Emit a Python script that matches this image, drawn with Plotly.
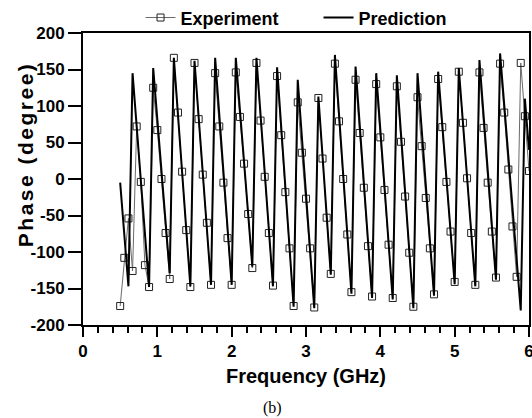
import plotly.graph_objects as go

freq_ghz = [
    0.5, 0.5556, 0.6111, 0.6667, 0.7222, 0.7778, 0.8333, 0.8889, 0.9444,
    1.0, 1.0556, 1.1111, 1.1667, 1.2222, 1.2778, 1.3333, 1.3889, 1.4444,
    1.5, 1.5556, 1.6111, 1.6667, 1.7222, 1.7778, 1.8333, 1.8889, 1.9444,
    2.0, 2.0556, 2.1111, 2.1667, 2.2222, 2.2778, 2.3333, 2.3889, 2.4444,
    2.5, 2.5556, 2.6111, 2.6667, 2.7222, 2.7778, 2.8333, 2.8889, 2.9444,
    3.0, 3.0556, 3.1111, 3.1667, 3.2222, 3.2778, 3.3333, 3.3889, 3.4444,
    3.5, 3.5556, 3.6111, 3.6667, 3.7222, 3.7778, 3.8333, 3.8889, 3.9444,
    4.0, 4.0556, 4.1111, 4.1667, 4.2222, 4.2778, 4.3333, 4.3889, 4.4444,
    4.5, 4.5556, 4.6111, 4.6667, 4.7222, 4.7778, 4.8333, 4.8889, 4.9444,
    5.0, 5.0556, 5.1111, 5.1667, 5.2222, 5.2778, 5.3333, 5.3889, 5.4444,
    5.5, 5.5556, 5.6111, 5.6667, 5.7222, 5.7778, 5.8333, 5.8889, 5.9444,
    6.0,
]

experiment_deg = [
    -174, -108, -54, -126, 72, -4, -118, -148, 125,
    67, 0, -74, -137, 166, 91, 10, -70, -148,
    159, 82, 6, -60, -145, 145, 72, -5, -81,
    -145, 146, 85, 21, -48, -122, 159, 80, 3,
    -74, -146, 141, 60, -18, -95, -174, 105, 36,
    -27, -95, -176, 111, 28, -53, -130, 158, 79,
    0, -76, -155, 136, 63, -12, -92, -161, 130,
    57, -15, -90, -163, 127, 51, -24, -101, -175,
    112, 45, -26, -95, -158, 137, 71, -4, -72,
    -141, 147, 77, 1, -74, -145, 146, 70, -5,
    -72, -135, 158, 91, 13, -65, -134, 159, 86,
    11,
]

prediction_deg = [
    -5, -76, -147, 145, 72, -2, -75, -148, 152,
    82, 12, -59, -129, 166, 88, 10, -69, -147,
    162, 85, 9, -68, -145, 166, 88, 11, -67,
    -145, 166, 95, 23, -49, -120, 166, 88, 10,
    -69, -147, 153, 71, -11, -93, -175, 136, 58,
    -21, -99, -177, 113, 32, -50, -131, 170, 88,
    7, -75, -157, 154, 75, -5, -84, -163, 145,
    68, -10, -88, -165, 142, 62, -18, -97, -177,
    145, 69, -8, -84, -160, 147, 74, 2, -71,
    -144, 152, 77, 3, -72, -147, 163, 88, 13,
    -63, -138, 172, 102, 31, -39, -110, -180, 110,
    40,
]

x_tick_vals = [0, 1, 2, 3, 4, 5, 6]
x_tick_text = ["0", "1", "2", "3", "4", "5", "6"]
y_tick_vals = [-200, -150, -100, -50, 0, 50, 100, 150, 200]
y_tick_text = ["-200", "-150", "-100", "-50", "0", "50", "100", "150", "200"]

FONT = "Liberation Sans, Arial, sans-serif"

fig = go.Figure()
fig.add_trace(go.Scatter(
    x=freq_ghz, y=experiment_deg, name="Experiment", mode="lines+markers",
    line=dict(color="#6a6a6a", width=1),
    marker=dict(symbol="square-open", size=7, color="#222222",
                line=dict(width=1, color="#222222")),
))
fig.add_trace(go.Scatter(
    x=freq_ghz, y=prediction_deg, name="Prediction", mode="lines",
    line=dict(color="#000000", width=2),
))

axis_common = dict(
    showline=True, linecolor="black", linewidth=2, mirror=True,
    ticks="outside", tickcolor="black", tickwidth=2,
    showgrid=False, zeroline=False, automargin=False,
    ticklabeloverflow="allow",
    tickfont=dict(family=FONT, size=17, color="black", weight="bold"),
)

fig.update_xaxes(range=[0, 6], tickvals=x_tick_vals, ticktext=x_tick_text,
                 ticklen=10,
                 minor=dict(dtick=0.2, ticks="outside", ticklen=6,
                            tickwidth=2, tickcolor="black"),
                 **axis_common)
fig.update_yaxes(range=[-200, 200], tickvals=y_tick_vals, ticktext=y_tick_text,
                 ticklen=13, **axis_common)

fig.update_layout(
    width=532, height=418,
    margin=dict(l=83, r=3, t=33, b=93, autoexpand=False),
    paper_bgcolor="white", plot_bgcolor="white",
    hovermode=False,
    showlegend=True,
    legend=dict(orientation="h", x=0.129, xanchor="left", y=1.052,
                yanchor="middle", bgcolor="rgba(0,0,0,0)",
                entrywidth=133, entrywidthmode="pixels",
                font=dict(family=FONT, size=18, color="black", weight="bold")),
    annotations=[
        dict(text="Frequency (GHz)", xref="paper", yref="paper",
             x=0.5, y=-0.175, xanchor="center", yanchor="middle",
             showarrow=False,
             font=dict(family=FONT, size=20, color="black", weight="bold")),
        dict(text="<span style='letter-spacing:2.5px'>Phase (degree)</span>",
             xref="paper", yref="paper", textangle=-90,
             x=-0.13, y=0.585, xanchor="center", yanchor="middle",
             showarrow=False,
             font=dict(family=FONT, size=21, color="black", weight="bold")),
        dict(text="(b)", xref="paper", yref="paper",
             x=0.4255, y=-0.284, xanchor="center", yanchor="middle",
             showarrow=False,
             font=dict(family="Liberation Serif, Times New Roman, serif",
                       size=16, color="black")),
    ],
)

fig.write_html(
    "out.html",
    config={"displayModeBar": False},
    post_script="document.body.style.margin='0';"
                "document.body.style.overflow='hidden';",
)
